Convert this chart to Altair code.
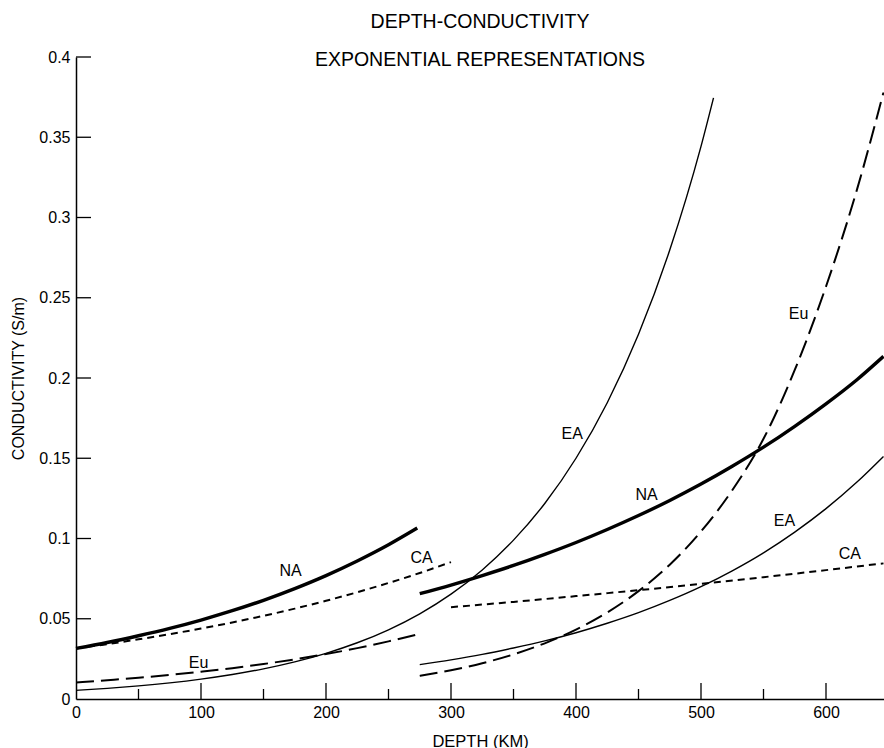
import altair as alt
import pandas as pd

FONT = "Liberation Sans"

# ---- curve data (depth km, conductivity S/m) ----
na_left_km = [0, 25, 50, 75, 100, 125, 150, 175, 200, 225, 250, 273]
na_left_val = [0.0315, 0.0352, 0.0394, 0.0440, 0.0492, 0.0550, 0.0615, 0.0688, 0.0769, 0.0860, 0.0961, 0.1065]

ca_left_km = [0, 25, 50, 75, 100, 125, 150, 175, 200, 225, 250, 275, 300]
ca_left_val = [0.0315, 0.0342, 0.0372, 0.0404, 0.0439, 0.0477, 0.0518, 0.0563, 0.0612, 0.0665, 0.0723, 0.0785, 0.0853]

eu_left_km = [0, 25, 50, 75, 100, 125, 150, 175, 200, 225, 250, 275]
eu_left_val = [0.0103, 0.0117, 0.0132, 0.0150, 0.0170, 0.0192, 0.0218, 0.0247, 0.0280, 0.0317, 0.0359, 0.0406]

ea_left_km = [0, 25, 50, 75, 100, 125, 150, 175, 200, 225, 250, 275, 300, 325, 350, 375, 400, 425, 450, 475, 500, 510]
ea_left_val = [0.0054, 0.00665, 0.00818, 0.01007, 0.0124, 0.01526, 0.01878, 0.02312, 0.02846, 0.03503, 0.04312,
               0.05308, 0.06533, 0.08042, 0.09899, 0.1218, 0.1500, 0.1846, 0.2272, 0.2797, 0.3443, 0.3745]

na_right_km = [275, 300, 325, 350, 375, 400, 425, 450, 475, 500, 525, 550, 575, 600, 625, 646]
na_right_val = [0.0656, 0.0710, 0.0769, 0.0832, 0.0901, 0.0975, 0.1056, 0.1143, 0.1237, 0.1339, 0.1450,
                0.1569, 0.1699, 0.1839, 0.1991, 0.2135]

ea_right_km = [275, 300, 325, 350, 375, 400, 425, 450, 475, 500, 525, 550, 575, 600, 625, 646]
ea_right_val = [0.0214, 0.0244, 0.0278, 0.0318, 0.0362, 0.0413, 0.0472, 0.0538, 0.0614, 0.0700, 0.0799,
                0.0911, 0.1040, 0.1186, 0.1353, 0.1511]

eu_right_km = [275, 300, 325, 350, 375, 400, 425, 450, 475, 500, 525, 550, 575, 600, 625, 646]
eu_right_val = [0.0144, 0.0179, 0.0223, 0.0278, 0.0347, 0.0432, 0.0539, 0.0672, 0.0837, 0.1044, 0.1301,
                0.1621, 0.2050, 0.2570, 0.3180, 0.3780]

ca_right_km = [300, 350, 400, 450, 500, 550, 600, 646]
ca_right_val = [0.0572, 0.0605, 0.0641, 0.0678, 0.0717, 0.0759, 0.0803, 0.0845]

# curve labels
label_text = ["NA", "CA", "Eu", "EA", "NA", "EA", "CA", "Eu"]
label_km = [171.7, 276.5, 98, 397, 456.5, 566.7, 619, 578]
label_val = [0.0798, 0.0878, 0.0224, 0.1653, 0.1273, 0.1107, 0.0903, 0.240]

# axis ticks
x_major = [0, 100, 200, 300, 400, 500, 600]
x_minor = [50, 150, 250, 350, 450, 550]
y_major = [0, 0.05, 0.1, 0.15, 0.2, 0.25, 0.3, 0.35, 0.4]

# ---- build table ----
segments = [
    ("NA-left", "thick", na_left_km, na_left_val),
    ("CA-left", "short", ca_left_km, ca_left_val),
    ("Eu-left", "long", eu_left_km, eu_left_val),
    ("EA-left", "thin", ea_left_km, ea_left_val),
    ("NA-right", "thick", na_right_km, na_right_val),
    ("EA-right", "thin", ea_right_km, ea_right_val),
    ("Eu-right", "long", eu_right_km, eu_right_val),
    ("CA-right", "short", ca_right_km, ca_right_val),
]
rows = []
for seg, style, kms, vals in segments:
    for k, v in zip(kms, vals):
        rows.append({"seg": seg, "style": style, "km": k, "val": v})
df = pd.DataFrame(rows)
labels = pd.DataFrame({"label": label_text, "km": label_km, "val": label_val})
xmaj = pd.DataFrame({"km": [v for v in x_major if v > 0]})
xmin = pd.DataFrame({"km": x_minor})
ymaj = pd.DataFrame({"val": [v for v in y_major if v > 0]})

xscale = alt.Scale(domain=[0, 646.4], nice=False, zero=False)
yscale = alt.Scale(domain=[0, 0.4], nice=False, zero=False)

xaxis = alt.Axis(values=x_major, format="d", ticks=False, grid=False, domainColor="black", domainWidth=1.5,
                 labelFont=FONT, labelFontSize=16, labelColor="black", labelPadding=5, labelFlush=False,
                 titleFont=FONT, titleFontSize=16.5, titleFontWeight="normal", titleColor="black", titlePadding=13)
yaxis = alt.Axis(values=y_major, format="~g", ticks=False, grid=False, domainColor="black", domainWidth=1.5,
                 labelFont=FONT, labelFontSize=16, labelColor="black", labelPadding=6, labelFlush=False,
                 titleFont=FONT, titleFontSize=16, titleFontWeight="normal", titleColor="black", titlePadding=12)

X = alt.X("km:Q", scale=xscale, axis=xaxis, title="DEPTH (KM)")
Y = alt.Y("val:Q", scale=yscale, axis=yaxis, title="CONDUCTIVITY (S/m)")

base = alt.Chart(df)
thick = base.transform_filter(alt.datum.style == "thick").mark_line(
    color="black", strokeWidth=3.4, interpolate="monotone", strokeCap="butt").encode(x=X, y=Y, detail="seg:N")
thin = base.transform_filter(alt.datum.style == "thin").mark_line(
    color="black", strokeWidth=1.4, interpolate="monotone").encode(x=X, y=Y, detail="seg:N")
long_d = base.transform_filter(alt.datum.style == "long").mark_line(
    color="black", strokeWidth=2, strokeDash=[18, 7], interpolate="monotone").encode(x=X, y=Y, detail="seg:N")
short_d = base.transform_filter(alt.datum.style == "short").mark_line(
    color="black", strokeWidth=2, strokeDash=[7, 5], interpolate="monotone").encode(x=X, y=Y, detail="seg:N")

text = alt.Chart(labels).mark_text(font=FONT, fontSize=16, color="black", align="center", baseline="middle").encode(
    x=X, y=Y, text="label:N")

xt_major = alt.Chart(xmaj).mark_rule(color="black", strokeWidth=1.3).encode(
    x=X, y=alt.value(642), y2=alt.value(626))
xt_minor = alt.Chart(xmin).mark_rule(color="black", strokeWidth=1.3).encode(
    x=X, y=alt.value(642), y2=alt.value(632))
yt_major = alt.Chart(ymaj).mark_rule(color="black", strokeWidth=1.3).encode(
    y=Y, x=alt.value(0), x2=alt.value(15))

chart = alt.layer(thin, long_d, short_d, thick, text, xt_major, xt_minor, yt_major).properties(
    width=808, height=642,
    background="white",
    title=alt.Title(["DEPTH-CONDUCTIVITY", "EXPONENTIAL REPRESENTATIONS"], font=FONT, fontSize=19.5,
                    fontWeight="normal", color="black", lineHeight=38, anchor="middle", offset=-21),
    autosize=alt.AutoSizeParams(type="none"),
    padding={"left": 76, "top": 57, "right": 0, "bottom": 49},
).configure_view(strokeWidth=0)

chart.save("out.html", embed_options={"renderer": "svg", "actions": False})
